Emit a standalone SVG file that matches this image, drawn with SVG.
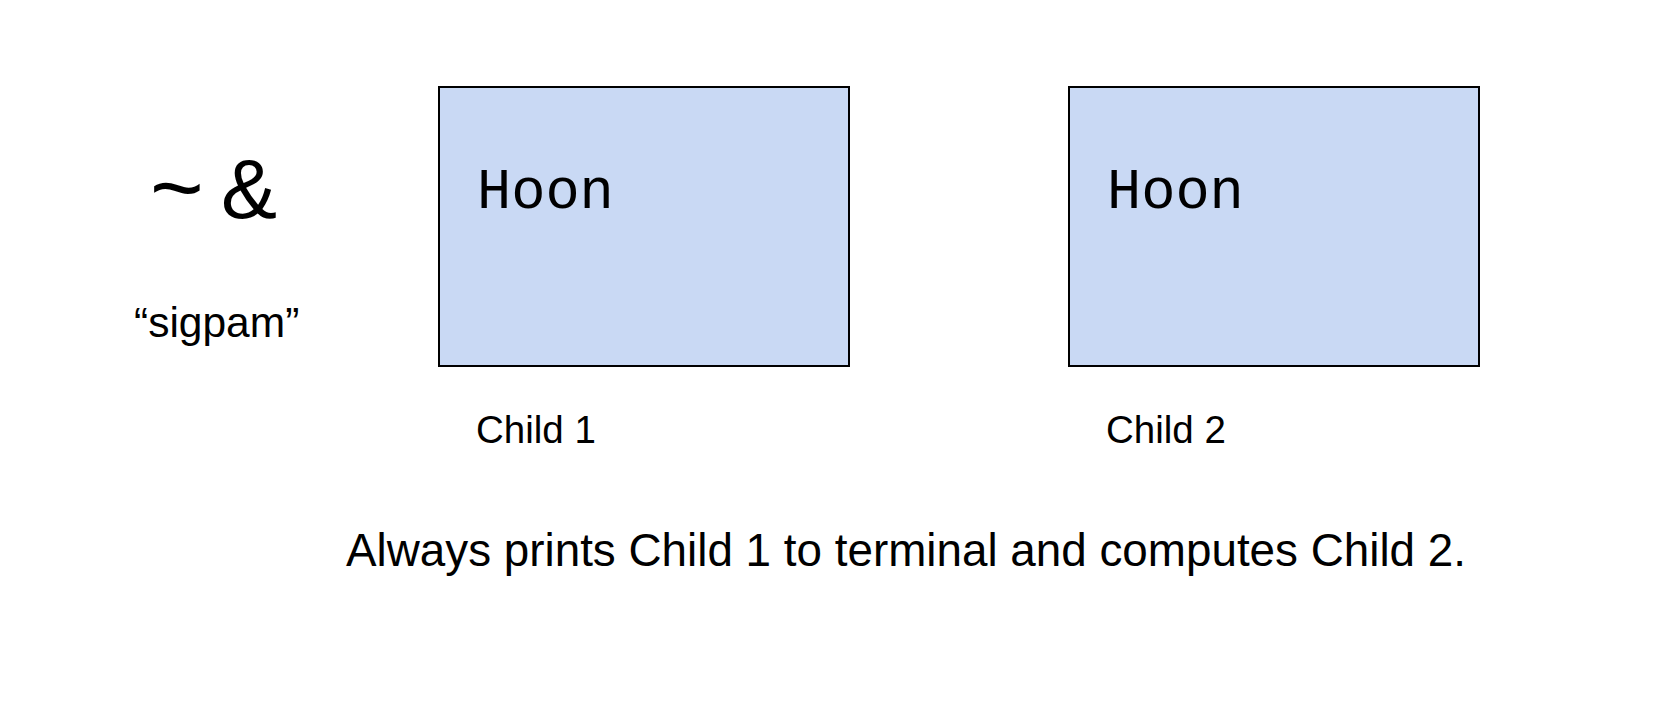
<svg xmlns="http://www.w3.org/2000/svg" width="1660" height="708" viewBox="0 0 1660 708">
<style>
.box{fill:#c9d9f4;stroke:#000;stroke-width:2}
.mono{font-family:"Courier New","Nimbus Mono PS","FreeMono","Liberation Mono",monospace;font-size:57px;fill:#000}
.sans{font-family:"Liberation Sans",Arial,sans-serif;fill:#000}
.label{font-size:38.5px}
</style>
<rect width="1660" height="708" fill="#fff"/>
<g id="symbols">
<text class="sans" x="150" y="219" font-size="92">~</text>
<text class="sans" x="221" y="218" font-size="84">&amp;</text>
<text class="sans" x="134" y="337" font-size="42.5">“sigpam”</text>
</g>
<g id="child1">
<rect class="box" x="439" y="87" width="410" height="279"/>
<text class="mono" x="477" y="208">Hoon</text>
<text class="sans label" x="476" y="443">Child 1</text>
</g>
<g id="child2">
<rect class="box" x="1069" y="87" width="410" height="279"/>
<text class="mono" x="1107" y="208">Hoon</text>
<text class="sans label" x="1106" y="443">Child 2</text>
</g>
<g id="connectors"/>
<g id="caption">
<text class="sans" x="346" y="566" font-size="45.8">Always prints Child 1 to terminal and computes Child 2.</text>
</g>
</svg>
